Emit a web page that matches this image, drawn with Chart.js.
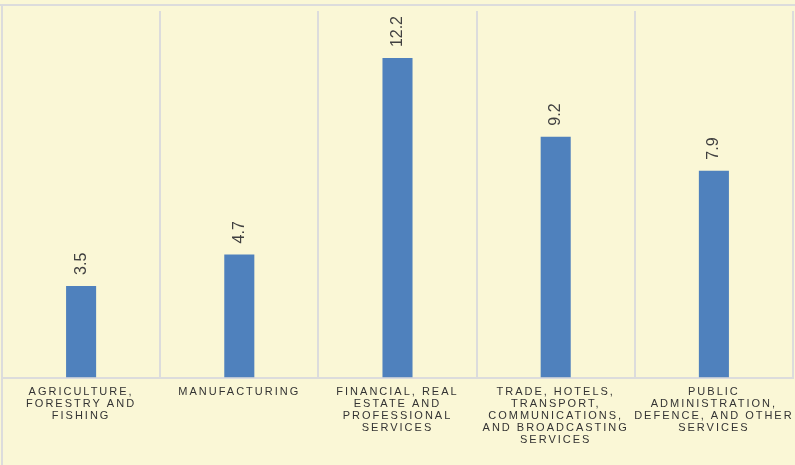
<!DOCTYPE html>
<html>
<head>
<meta charset="utf-8">
<script src="https://cdn.jsdelivr.net/npm/chart.js@4"></script>
<style>
  html, body { margin: 0; padding: 0; background: #FAF7D6; }
  #wrap { width: 795px; height: 465px; position: relative; }
</style>
</head>
<body>
<div id="wrap"><canvas id="chart"></canvas></div>
<script>
const categories = [
  ["AGRICULTURE,", "FORESTRY AND", "FISHING"],
  ["MANUFACTURING"],
  ["FINANCIAL, REAL", "ESTATE AND", "PROFESSIONAL", "SERVICES"],
  ["TRADE, HOTELS,", "TRANSPORT,", "COMMUNICATIONS,", "AND BROADCASTING", "SERVICES"],
  ["PUBLIC", "ADMINISTRATION,", "DEFENCE, AND OTHER", "SERVICES"]
]
const values = [3.5, 4.7, 12.2, 9.2, 7.9]

// frame + letter spacing for axis text
const framePlugin = {
  id: "frame",
  beforeDraw(chart){
    const c = chart.ctx
    c.save()
    c.fillStyle = "#FAF7D6"
    c.fillRect(0, 0, chart.width, chart.height)
    c.strokeStyle = "#DCDCDC"
    c.lineWidth = 2
    c.beginPath()
    c.moveTo(0, 5); c.lineTo(chart.width, 5)
    c.moveTo(2, 5); c.lineTo(2, chart.height)
    c.stroke()
    c.restore()
    c.letterSpacing = "2px"
  },
  beforeDatasetsDraw(chart){
    chart.ctx.letterSpacing = "0px"
  }
}

// rotated value labels above the bars
const valueLabels = {
  id: "valueLabels",
  afterDatasetsDraw(chart){
    const c = chart.ctx
    const meta = chart.getDatasetMeta(0)
    c.save()
    c.font = "16px 'Liberation Sans', Arial, sans-serif"
    c.fillStyle = "#404040"
    c.textAlign = "left"
    c.textBaseline = "middle"
    meta.data.forEach((bar, i) => {
      c.save()
      c.translate(bar.x, bar.y - 11)
      c.rotate(-Math.PI / 2)
      c.fillText(values[i].toFixed(1), 0, 0)
      c.restore()
    })
    c.restore()
  }
}

new Chart(document.getElementById("chart"), {
  type: "bar",
  data: {
    labels: categories,
    datasets: [{
      data: values,
      backgroundColor: "#4F81BD",
      barPercentage: 0.19,
      categoryPercentage: 1
    }]
  },
  options: {
    responsive: true,
    maintainAspectRatio: false,
    animation: false,
    layout: { padding: { left: 2, right: 2, top: 11, bottom: 11 } },
    plugins: { legend: { display: false }, tooltip: { enabled: false } },
    scales: {
      x: {
        grid: { offset: true, color: "#DCDCDC", lineWidth: 2, drawTicks: false },
        border: { color: "#DCDCDC", width: 2 },
        ticks: {
          autoSkip: false,
          maxRotation: 0,
          minRotation: 0,
          padding: 8,
          color: "#333333",
          font: { family: "'Liberation Sans', Arial, sans-serif", size: 11, lineHeight: 1.1 }
        }
      },
      y: {
        display: false,
        min: 0,
        max: 14
      }
    }
  },
  plugins: [framePlugin, valueLabels]
})
</script>
</body>
</html>
